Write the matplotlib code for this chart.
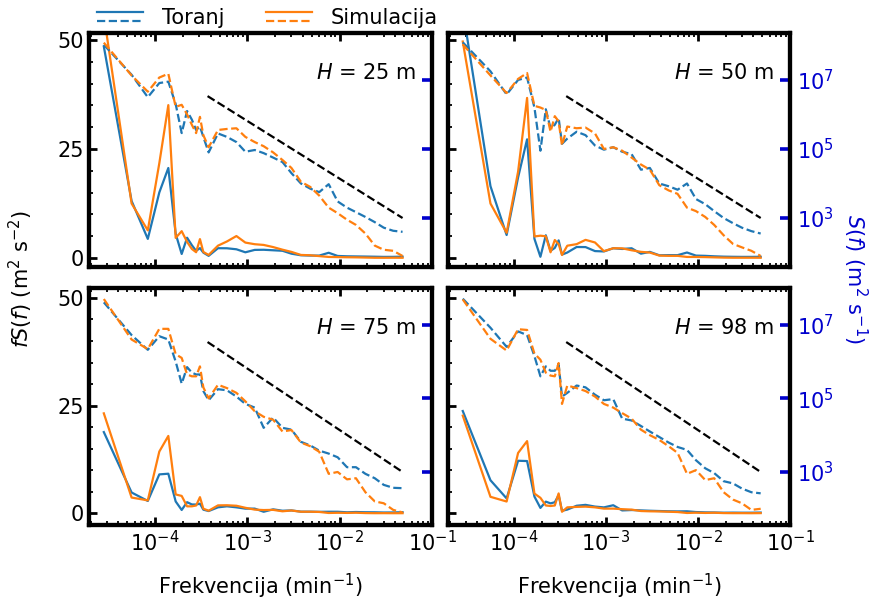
import numpy as np
import matplotlib
matplotlib.use('Agg')
import matplotlib.pyplot as plt
from matplotlib.lines import Line2D
from matplotlib.legend_handler import HandlerBase
from matplotlib.ticker import LogLocator, NullLocator, MultipleLocator, NullFormatter

plt.rcParams['font.family'] = ['DejaVu Sans']
plt.rcParams['font.size'] = 15

# Frequencies (min^-1)
freq = np.array([2.78e-5, 5.56e-5, 8.33e-5, 1.11e-4, 1.39e-4, 1.67e-4, 1.94e-4, 2.22e-4,
                 2.50e-4, 2.78e-4, 3.06e-4, 3.33e-4, 3.8e-4, 4.8e-4, 6.0e-4, 7.6e-4,
                 9.5e-4, 1.2e-3, 1.5e-3, 1.9e-3, 2.4e-3, 3.0e-3, 3.8e-3, 4.8e-3,
                 6.0e-3, 7.6e-3, 9.5e-3, 1.2e-2, 1.5e-2, 1.9e-2, 2.4e-2, 3.0e-2,
                 3.8e-2, 4.8e-2])

heights = ['25', '50', '75', '98']

# log10 S(f) (m^2 s^-1)
logS_toranj_25 = [8.02, 7.15, 6.50, 6.91, 6.95, 6.30, 5.46, 6.10, 5.85, 5.55, 5.65, 5.35,
                  4.90, 5.45, 5.35, 5.20, 4.92, 4.97, 4.88, 4.75, 4.62, 4.30, 4.00, 3.85,
                  3.75, 3.98, 3.48, 3.30, 3.17, 3.03, 2.88, 2.72, 2.63, 2.60]
logS_sim_25 = [8.08, 7.13, 6.66, 7.07, 7.18, 6.22, 6.28, 6.00, 5.70, 5.46, 5.93, 5.40,
               5.05, 5.55, 5.58, 5.60, 5.35, 5.20, 5.08, 4.90, 4.68, 4.45, 4.05, 3.90,
               3.65, 3.30, 3.14, 2.95, 2.80, 2.55, 2.20, 2.08, 2.05, 1.90]
logS_toranj_50 = [8.09, 7.25, 6.58, 7.00, 7.07, 6.20, 4.95, 6.15, 5.60, 5.70, 5.90, 5.15,
                  5.30, 5.50, 5.40, 5.10, 4.98, 5.05, 4.92, 4.85, 4.40, 4.45, 4.00, 3.92,
                  3.82, 4.00, 3.55, 3.40, 3.20, 3.00, 2.85, 2.72, 2.62, 2.55]
logS_sim_50 = [8.03, 7.13, 6.62, 7.03, 7.20, 6.25, 6.20, 6.13, 5.50, 5.95, 5.80, 5.10,
               5.65, 5.60, 5.62, 5.45, 5.00, 5.05, 4.95, 4.75, 4.55, 4.40, 3.95, 3.80,
               3.70, 3.30, 3.20, 3.03, 2.80, 2.50, 2.25, 2.15, 2.05, 1.90]
logS_toranj_75 = [7.61, 6.72, 6.32, 6.69, 6.60, 6.00, 5.40, 5.85, 5.70, 5.65, 5.65, 5.20,
                  4.95, 5.25, 5.22, 5.05, 4.85, 4.75, 4.20, 4.48, 4.20, 4.15, 3.82, 3.72,
                  3.58, 3.50, 3.40, 3.13, 3.13, 2.95, 2.83, 2.65, 2.57, 2.56]
logS_sim_75 = [7.70, 6.60, 6.34, 6.89, 6.89, 6.20, 6.10, 5.65, 5.60, 5.60, 5.87, 5.30,
               5.00, 5.37, 5.28, 5.15, 4.92, 4.65, 4.50, 4.42, 4.10, 4.14, 3.80, 3.70,
               3.55, 2.95, 3.00, 2.80, 2.83, 2.45, 2.20, 2.15, 1.97, 1.90]
logS_toranj_98 = [7.71, 6.92, 6.40, 6.82, 6.72, 6.15, 5.60, 5.87, 5.75, 5.75, 5.92, 5.05,
                  5.15, 5.35, 5.30, 5.10, 4.95, 4.98, 4.45, 4.40, 4.25, 4.10, 3.95, 3.80,
                  3.68, 3.60, 3.32, 3.10, 2.97, 2.75, 2.69, 2.55, 2.45, 2.42]
logS_sim_98 = [7.69, 6.62, 6.30, 6.88, 6.86, 6.22, 6.05, 5.70, 5.62, 5.60, 5.96, 4.85,
               5.35, 5.28, 5.20, 5.05, 4.85, 4.75, 4.60, 4.45, 4.15, 4.00, 3.87, 3.70,
               3.52, 2.95, 3.05, 2.78, 2.83, 2.45, 2.25, 2.15, 1.97, 2.00]

toranj = [logS_toranj_25, logS_toranj_50, logS_toranj_75, logS_toranj_98]
simul = [logS_sim_25, logS_sim_50, logS_sim_75, logS_sim_98]

# -5/3 reference line end points
ref_f = [3.7e-4, 4.8e-2]
ref_S = [3.4e6, 1.0e3]

C_TOR = '#1f77b4'
C_SIM = '#ff7f0e'
BLUE = '#0000cd'

positions = [[0.1024, 0.5557, 0.3947, 0.3894],
             [0.5155, 0.5557, 0.3936, 0.3894],
             [0.1024, 0.1265, 0.3947, 0.3943],
             [0.5155, 0.1265, 0.3936, 0.3943]]
left_ylims = [(-2.06, 51.6), (-2.06, 51.6), (-2.67, 52.3), (-2.67, 52.3)]
right_ylims = [(10**1.58, 10**8.36), (10**1.58, 10**8.36), (10**1.56, 10**8.0), (10**1.56, 10**8.0)]


class StackedHandler(HandlerBase):
    def create_artists(self, legend, orig_handle, xdescent, ydescent, width, height,
                       fontsize, trans):
        arts = []
        ys = [0.85, 0.2]
        for h, fy in zip(orig_handle, ys):
            y = height * fy - ydescent
            ln = Line2D([-xdescent, width - xdescent], [y, y], color=h.get_color(),
                        linestyle=h.get_linestyle(), linewidth=h.get_linewidth(),
                        transform=trans)
            arts.append(ln)
        return arts


fig = plt.figure(figsize=(8.69, 6.01), dpi=100)
f_hz = freq / 60.0
handles = None
for i in range(4):
    ax = fig.add_axes(positions[i])
    ax2 = ax.twinx()
    S_t = 10 ** np.array(toranj[i])
    S_s = 10 ** np.array(simul[i])
    l1, = ax.plot(freq, S_t * f_hz, color=C_TOR, lw=1.6)
    l2, = ax.plot(freq, S_s * f_hz, color=C_SIM, lw=1.6)
    d1, = ax2.plot(freq, S_t, color=C_TOR, lw=1.6, ls='--')
    d2, = ax2.plot(freq, S_s, color=C_SIM, lw=1.6, ls='--')
    ax2.plot(ref_f, ref_S, color='black', lw=1.6, ls='--')
    if handles is None:
        handles = [(l1, d1), (l2, d2)]

    ax.set_xscale('log')
    ax.set_xlim(1.92e-5, 0.1)
    ax.set_ylim(*left_ylims[i])
    ax.set_yticks([0, 25, 50])
    ax.yaxis.set_minor_locator(MultipleLocator(5))
    ax.xaxis.set_major_locator(LogLocator(base=10, numticks=12))
    ax.xaxis.set_minor_locator(LogLocator(base=10, subs=np.arange(2, 10), numticks=12))
    ax.xaxis.set_minor_formatter(NullFormatter())
    ax.tick_params(which='major', direction='in', length=6, width=2, top=True)
    ax.tick_params(which='minor', direction='in', length=3, width=1.3, top=True)

    ax2.set_yscale('log')
    ax2.set_ylim(*right_ylims[i])
    ax2.set_yticks([1e3, 1e5, 1e7])
    ax2.yaxis.set_minor_locator(NullLocator())
    ax2.tick_params(axis='y', which='major', direction='in', length=7, width=2.6,
                    color=BLUE, labelcolor=BLUE, pad=5)

    for a in (ax, ax2):
        for s in a.spines.values():
            s.set_linewidth(3)

    if i in (0, 2):
        ax2.tick_params(labelright=False)
    else:
        ax.tick_params(labelleft=False)
    if i in (0, 1):
        ax.tick_params(labelbottom=False)
    else:
        ax.set_xlabel('Frekvencija (min$^{-1}$)', labelpad=12)

    ax.text(0.955, 0.83, '$H$ = ' + heights[i] + ' m', transform=ax.transAxes,
            ha='right', va='center', fontsize=15)

fig.text(0.024, 0.536, '$fS(f)$ (m$^2$ s$^{-2}$)', rotation=90, ha='center', va='center')
fig.text(0.984, 0.536, '$S(f)$ (m$^2$ s$^{-1}$)', rotation=270, ha='center', va='center',
         color=BLUE)

fig.legend(handles=handles, labels=['Toranj', 'Simulacija'],
           handler_map={tuple: StackedHandler()}, loc='center left',
           bbox_to_anchor=(0.1116, 0.970), ncol=2, frameon=False,
           handlelength=2.2, handletextpad=0.9, columnspacing=2.0,
           borderaxespad=0, borderpad=0)

fig.savefig('out.png', dpi=100)
